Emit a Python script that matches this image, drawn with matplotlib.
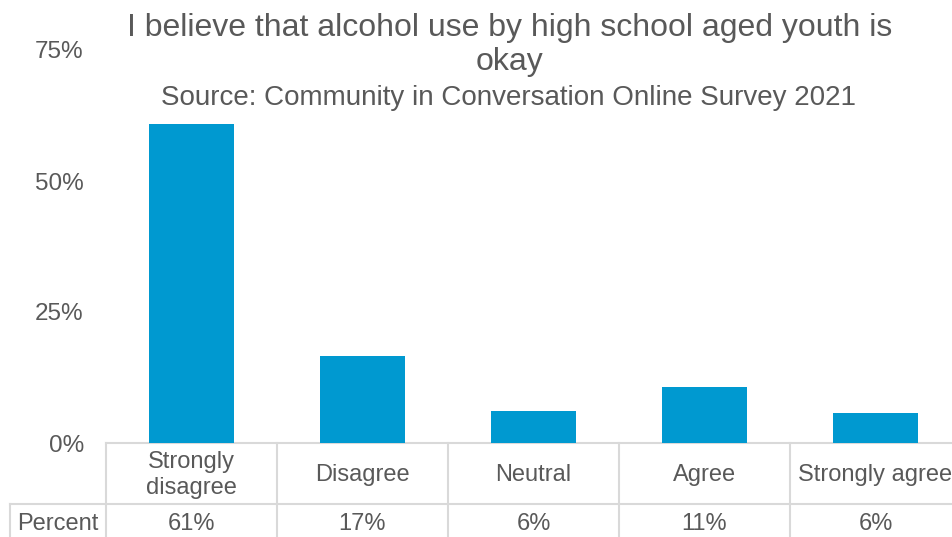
import matplotlib
matplotlib.use('Agg')
import matplotlib.pyplot as plt
import matplotlib.transforms as mtransforms

plt.rcParams['font.family'] = ['Liberation Sans', 'DejaVu Sans']

# Survey responses (share of respondents)
categories = ['Strongly\ndisagree', 'Disagree', 'Neutral', 'Agree', 'Strongly agree']
percent = [0.609, 0.166, 0.061, 0.107, 0.057]
yticks = [0, 0.25, 0.50, 0.75]
ytick_labels = ['0%', '25%', '50%', '75%']

TXT = '#595959'
GRID = '#d9d9d9'
BAR = '#0099d0'

W, H = 953, 537
fig = plt.figure(figsize=(W / 100, H / 100), dpi=100)
# plot area runs a little past the right edge, like the original sheet
ax = fig.add_axes([106 / W, (H - 443) / H, (961 - 106) / W, (443 - 50) / H])

x = list(range(len(categories)))
ax.bar(x, percent, width=0.5, color=BAR, zorder=2)
ax.set_xlim(-0.5, len(categories) - 0.5)
ax.set_ylim(0, 0.75)
ax.set_yticks(yticks)
ax.set_yticklabels(ytick_labels, fontsize=17.5, color=TXT)
ax.tick_params(axis='y', length=0, pad=16)
ax.set_xticks([])
for s in ax.spines.values():
    s.set_visible(False)

# data table under the plot: x in data units, y in axes units
trans = mtransforms.blended_transform_factory(ax.transData, ax.transAxes)
ah = 443 - 50
row1 = -(504 - 443) / ah
row2 = -(570 - 443) / ah
label_left = -0.5 - (106 - 10) / 171.0
kw = dict(transform=trans, color=GRID, lw=1.5, clip_on=False, zorder=1)
ax.plot([-0.5, 4.5], [0, 0], **kw)
ax.plot([label_left, 4.5], [row1, row1], **kw)
ax.plot([label_left, 4.5], [row2, row2], **kw)
for b in range(len(categories)):
    ax.plot([b - 0.5, b - 0.5], [0, row2], **kw)
ax.plot([label_left, label_left], [row1, row2], **kw)

cat_y = -(475 - 443) / ah
pct_y = -(524 - 443) / ah
for i, c in enumerate(categories):
    ax.text(i, cat_y, c, transform=trans, ha='center', va='center',
            fontsize=17, color=TXT, linespacing=1.2)
    ax.text(i, pct_y, '{:.0f}%'.format(percent[i] * 100),
            transform=trans, ha='center', va='center', fontsize=17, color=TXT)
ax.text((label_left - 0.5) / 2, pct_y, 'Percent', transform=trans,
        ha='center', va='center', fontsize=17, color=TXT)

fig.text(510 / W, 1 - 28 / H, 'I believe that alcohol use by high school aged youth is',
         ha='center', va='center', fontsize=23, color=TXT)
fig.text(510 / W, 1 - 62 / H, 'okay', ha='center', va='center', fontsize=23, color=TXT)
fig.text(509 / W, 1 - 98 / H, 'Source: Community in Conversation Online Survey 2021',
         ha='center', va='center', fontsize=20, color=TXT)

fig.savefig('out.png', dpi=100)
